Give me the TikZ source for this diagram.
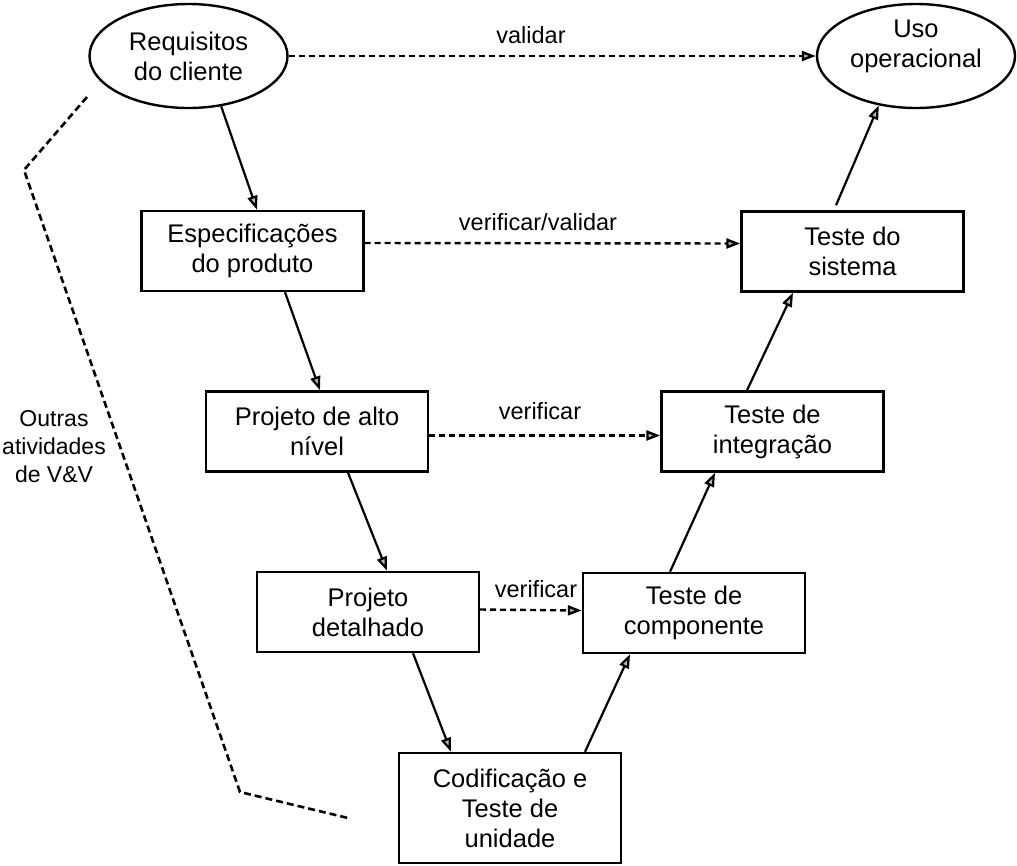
\documentclass[tikz,border=0pt]{standalone}
\usepackage{fontspec}
\setmainfont{Liberation Sans}
\usetikzlibrary{shapes.geometric,arrows.meta}
\begin{document}
\begin{tikzpicture}[x=1pt,y=-1pt,
  every node/.style={inner sep=0pt},
  stage/.style={draw, line width=2.4pt, rectangle, minimum width=222pt,
    minimum height=80pt, align=center, font=\fontsize{25.5}{30}\selectfont},
  goal/.style={draw, line width=2.4pt, ellipse, minimum width=198pt,
    minimum height=104pt, align=center, font=\fontsize{25.5}{30}\selectfont},
  caption/.style={align=center, font=\fontsize{25.5}{30}\selectfont},
  tip/.style={-{Triangle[length=14pt,width=10pt,fill=gray!55]}},
  flow/.style={line width=2.2pt, tip},
  check/.style={line width=2.4pt, dash pattern=on 6pt off 4pt, tip},
  tag/.style={font=\fontsize{23.5}{28}\selectfont, anchor=base},
  bracket/.style={line width=2.6pt, dash pattern=on 7pt off 4pt},
]
\useasboundingbox (0,0) rectangle (1017,865);

% end points of the V
\node[goal] (req) at (188.5,56) {Requisitos\\do cliente};
\node[goal] (uso) at (916,56) {};
\node[caption] (usotext) at (916,46) {Uso\\operacional};

% left branch: specification and design
\node[stage] (espec) at (252.5,251) {Especificações\\do produto};
\node[stage] (alto)  at (317,431.5) {Projeto de alto\\nível};
\node[stage] (det)   at (368,612) {Projeto\\detalhado};

% bottom
\node[stage, minimum height=110pt] (cod) at (510,808) {Codificação e\\Teste de\\unidade};

% right branch: testing
\node[stage] (comp)  at (694,613) {Teste de\\componente};
\node[stage] (integ) at (772.5,431.5) {Teste de\\integração};
\node[stage] (sist)  at (852.5,251.5) {Teste do\\sistema};

% development flow
\draw[flow] (req.-57.6) -- ([xshift=4.5pt]espec.north);
\draw[flow] ([xshift=32.5pt]espec.south) -- ([xshift=3pt]alto.north);
\draw[flow] ([xshift=31pt]alto.south) -- ([xshift=19pt]det.north);
\draw[flow] ([xshift=45pt]det.south) -- ([xshift=-59pt]cod.north);
\draw[flow] ([xshift=75pt]cod.north) -- ([xshift=-64pt]comp.south);
\draw[flow] ([xshift=-24pt]comp.north) -- ([xshift=-57.5pt]integ.south);
\draw[flow] ([xshift=-25.5pt]integ.north) -- ([xshift=-59.5pt]sist.south);
\draw[flow] ([xshift=-16.5pt,yshift=5pt]sist.north) -- (uso.-127);

% verification and validation links
\draw[check] (req.east) -- (uso.west);
\draw[check] ([yshift=8pt]espec.east) -- ([yshift=8pt]sist.west);
\draw[check] ([yshift=-4pt]alto.east) -- ([yshift=-4pt]integ.west);
\draw[check] ([yshift=2.5pt]det.east) -- ([yshift=2.5pt]comp.west);

\node[tag] (l1) at (531,43) {validar};
\node[tag] (l2) at (538,230) {verificar/validar};
\node[tag] (l3) at (540,419) {verificar};
\node[tag] (l4) at (536,597) {verificar};

% other V&V activities
\coordinate (b1) at (87,97);
\coordinate (b2) at (24,170);
\coordinate (b3) at (240,792);
\coordinate (b4) at (348,818);
\draw[bracket] (b1) -- (b2) -- (b3) -- (b4);
\node[align=center, font=\fontsize{23}{28}\selectfont] (vv) at (54,447)
  {Outras\\atividades\\de V\&V};
\end{tikzpicture}
\end{document}
